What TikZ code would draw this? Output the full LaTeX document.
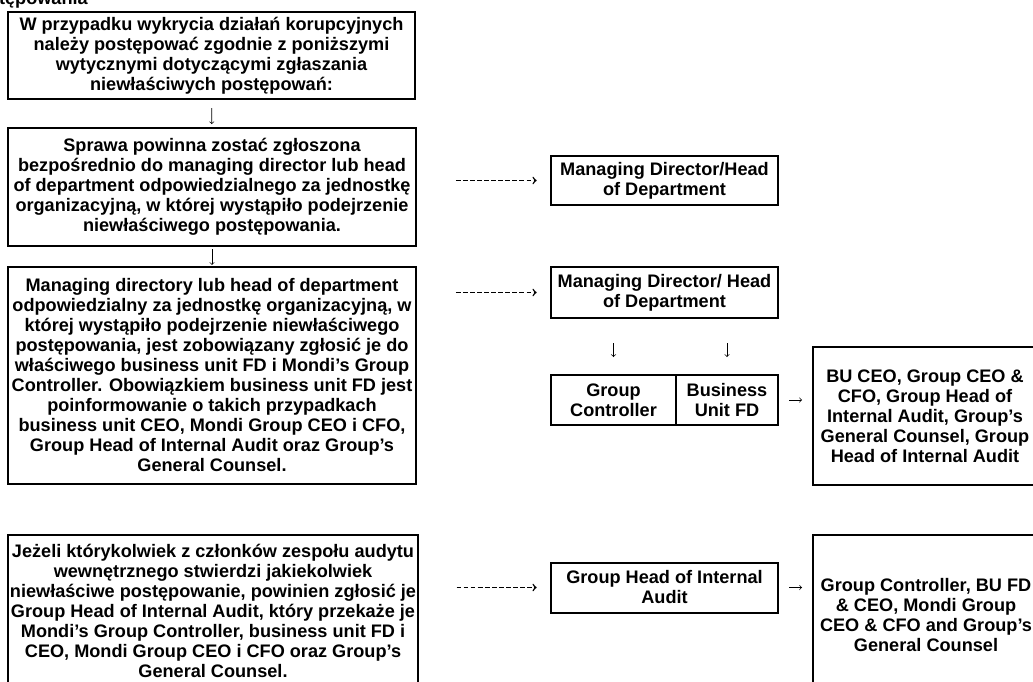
\documentclass[tikz,border=0pt]{standalone}
\usepackage{fontspec}
\setmainfont{Liberation Sans}
\usepackage{tikz}
\usetikzlibrary{positioning}
\tikzstyle{krok} = [draw=black, line width=1.8pt, rectangle, align=center, inner sep=1pt, font=\bfseries\fontsize{13.6}{15}\selectfont]
\tikzstyle{odbiorca} = [krok, line width=1.5pt]
\tikzstyle{strzalka} = [->, line width=0.5pt]
\tikzstyle{kreski} = [->, line width=1.1pt, dash pattern=on 3.6pt off 1.7pt]

\begin{document}
\begin{tikzpicture}[x=0.75pt, y=-0.75pt]
	\useasboundingbox (0,0) rectangle (1033,682);
	\node[anchor=base east, inner sep=0pt, font=\bfseries\fontsize{13.6}{15}\selectfont] (tytul) at (88,4) {postępowania};
	% lewa kolumna
	\node[krok, minimum width=305.25pt, minimum height=65.25pt] (wstep) at (211.5,55.5) {%
		W przypadku wykrycia działań korupcyjnych\\
		należy postępować zgodnie z poniższymi\\
		wytycznymi dotyczącymi zgłaszania\\
		niewłaściwych postępowań:};
	\node[krok, minimum width=306pt, minimum height=88.5pt] (krok1) at (212,187) {%
		Sprawa powinna zostać zgłoszona\\
		bezpośrednio do managing director lub head\\
		of department odpowiedzialnego za jednostkę\\
		organizacyjną, w której wystąpiło podejrzenie\\
		niewłaściwego postępowania.};
	\node[krok, minimum width=306pt, minimum height=163pt] (krok2) at (212,375.5) {%
		Managing directory lub head of department\\
		odpowiedzialny za jednostkę organizacyjną, w\\
		której wystąpiło podejrzenie niewłaściwego\\
		postępowania, jest zobowiązany zgłosić je do\\
		właściwego business unit FD i Mondi’s Group\\
		Controller. Obowiązkiem business unit FD jest\\
		poinformowanie o takich przypadkach\\
		business unit CEO, Mondi Group CEO i CFO,\\
		Group Head of Internal Audit oraz Group’s\\
		General Counsel.};
	\node[krok, minimum width=307.5pt, minimum height=114pt] (krok3) at (213,611) {%
		Jeżeli którykolwiek z członków zespołu audytu\\
		wewnętrznego stwierdzi jakiekolwiek\\
		niewłaściwe postępowanie, powinien zgłosić je\\
		Group Head of Internal Audit, który przekaże je\\
		Mondi’s Group Controller, business unit FD i\\
		CEO, Mondi Group CEO i CFO oraz Group’s\\
		General Counsel.};
	% prawa kolumna
	\node[odbiorca, minimum width=170.25pt, minimum height=36.75pt] (md1) at (664.5,180.5) {Managing Director/Head\\of Department};
	\node[odbiorca, minimum width=170.25pt, minimum height=38.25pt] (md2) at (664.5,292.5) {Managing Director/ Head\\of Department};
	\node[odbiorca, minimum width=93.75pt, minimum height=37.5pt] (gc) at (613.5,400) {Group\\Controller};
	\node[odbiorca, minimum width=76.5pt, minimum height=37.5pt, right=-1.5pt of gc] (bufd) {Business\\Unit FD};
	\node[odbiorca, minimum width=168pt, minimum height=103.5pt] (zarzad1) at (925,416) {%
		BU CEO, Group CEO \&\\
		CFO, Group Head of\\
		Internal Audit, Group’s\\
		General Counsel, Group\\
		Head of Internal Audit};
	\node[odbiorca, minimum width=170.25pt, minimum height=37.5pt] (audyt) at (664.5,587.5) {Group Head of Internal\\Audit};
	\node[odbiorca, minimum width=169.5pt, minimum height=120pt] (zarzad2) at (926,615) {%
		Group Controller, BU FD\\
		\& CEO, Mondi Group\\
		CEO \& CFO and Group’s\\
		General Counsel};
	% strzalki
	\draw[strzalka, shorten <=6pt, shorten >=2pt] (wstep) -- (krok1);
	\draw[strzalka, shorten <=1.5pt, shorten >=0.5pt] (krok1) -- (krok2);
	\draw[kreski, shorten <=29pt, shorten >=10pt] (krok1.east |- md1.west) -- (md1.west);
	\draw[kreski, shorten <=29pt, shorten >=10pt] (krok2.east |- md2.west) -- (md2.west);
	\draw[kreski, shorten <=28pt, shorten >=10pt] (krok3.east |- audyt.west) -- (audyt.west);
	\draw[strzalka, shorten <=18pt, shorten >=12.75pt] (gc.north |- md2.south) -- (gc.north);
	\draw[strzalka, shorten <=18pt, shorten >=12.75pt] (bufd.north |- md2.south) -- (bufd.north);
	\draw[strzalka, shorten <=7.5pt, shorten >=7.5pt] (bufd.east) -- (zarzad1.west |- bufd.east);
	\draw[strzalka, shorten <=7.5pt, shorten >=7.5pt] (audyt.east) -- (zarzad2.west |- audyt.east);
\end{tikzpicture}
\end{document}
